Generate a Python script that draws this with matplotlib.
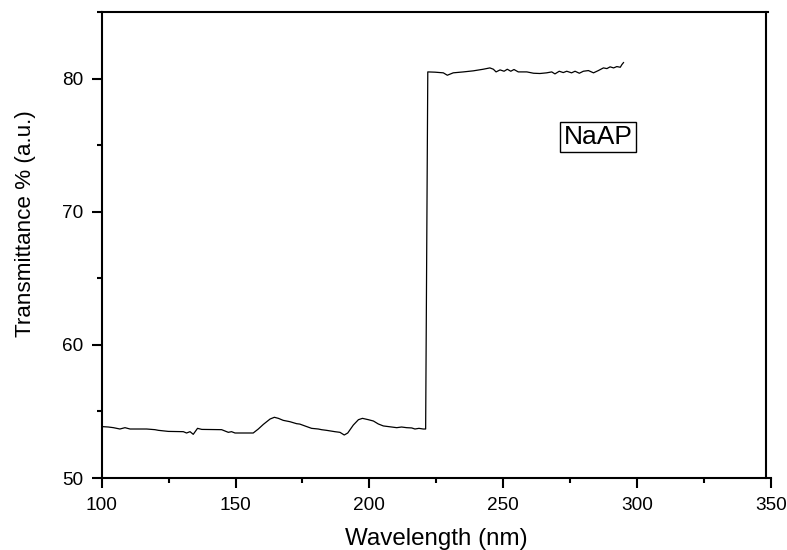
import matplotlib
matplotlib.use("Agg")
import matplotlib.pyplot as plt
from matplotlib.ticker import MultipleLocator

plt.rcParams['font.family'] = ['Liberation Sans', 'DejaVu Sans']

wavelength_low = [100.2, 102.5, 104.4, 106.8, 108.7, 110.6, 116.8, 119.9, 121.2, 124.9,
                  130.5, 131.7, 133.0, 134.2, 135.8, 137.4, 144.8, 147.3, 148.5, 149.8,
                  156.6, 158.5, 160.4, 162.9, 164.5, 166.0, 167.8, 170.3, 172.8, 174.0,
                  175.9, 178.4, 180.9, 182.1, 184.0, 187.1, 189.0, 190.6, 191.9, 194.0,
                  195.9, 197.4, 199.6, 201.5, 203.3, 205.2, 208.3, 210.2, 212.0, 213.9,
                  215.8, 217.0, 218.5, 220.1, 221.0]
transmit_low = [53.86, 53.83, 53.78, 53.68, 53.78, 53.68, 53.68, 53.63, 53.58, 53.50,
                53.48, 53.38, 53.48, 53.28, 53.73, 53.65, 53.63, 53.43, 53.48, 53.38,
                53.38, 53.68, 54.03, 54.43, 54.56, 54.48, 54.33, 54.23, 54.08, 54.05,
                53.91, 53.73, 53.68, 53.63, 53.58, 53.48, 53.43, 53.23, 53.38, 53.98,
                54.38, 54.48, 54.38, 54.28, 54.06, 53.91, 53.83, 53.78, 53.83, 53.78,
                53.76, 53.68, 53.73, 53.68, 53.68]
wavelength_high = [221.8, 224.5, 227.6, 229.1, 231.3, 235.1, 238.8, 242.5, 245.0, 246.3,
                   247.3, 248.8, 250.3, 251.5, 252.8, 254.0, 255.6, 258.8, 261.3, 263.7,
                   266.2, 268.1, 269.3, 270.9, 272.4, 273.7, 275.5, 276.8, 278.4, 279.9,
                   281.8, 283.7, 285.5, 287.4, 288.7, 289.9, 291.2, 292.4, 293.7, 294.3,
                   294.9]
transmit_high = [80.50, 80.48, 80.43, 80.25, 80.43, 80.50, 80.58, 80.70, 80.80, 80.70,
                 80.50, 80.65, 80.55, 80.70, 80.55, 80.68, 80.50, 80.50, 80.40, 80.38,
                 80.43, 80.50, 80.35, 80.55, 80.45, 80.55, 80.43, 80.55, 80.40, 80.55,
                 80.60, 80.43, 80.60, 80.80, 80.75, 80.88, 80.80, 80.90, 80.85, 81.05,
                 81.20]

x = wavelength_low + wavelength_high
y = transmit_low + transmit_high

fig = plt.figure(figsize=(7.87, 5.5), dpi=100)
ax = fig.add_axes([0.1292, 0.1309, 0.9797 - 0.1292, 0.9782 - 0.1309])
ax.plot(x, y, color='black', linewidth=0.9)

ax.set_xlim(100, 350)
ax.set_ylim(50, 85)
ax.xaxis.set_major_locator(MultipleLocator(50))
ax.xaxis.set_minor_locator(MultipleLocator(25))
ax.set_yticks([50, 60, 70, 80])
ax.yaxis.set_minor_locator(MultipleLocator(5))

for s in ax.spines.values():
    s.set_linewidth(1.5)
ax.spines['right'].set_position(('data', 348))
ax.spines['top'].set_bounds(100, 349)

ax.tick_params(which='major', direction='out', length=7.2, width=1.5, labelsize=13.7,
               pad=6.2, top=False, right=False)
ax.tick_params(which='minor', direction='out', length=3.8, width=1.5,
               top=False, right=False)

ax.set_xlabel('Wavelength (nm)', fontsize=17.4)
ax.set_ylabel('Transmittance % (a.u.)', fontsize=16.2)
ax.xaxis.set_label_coords(0.5, -0.107)
ax.yaxis.set_label_coords(-0.0974, 0.545)

ax.text(285.4, 75.11, 'NaAP', fontsize=19, ha='center', va='baseline',
        bbox=dict(boxstyle='square,pad=0.12', facecolor='white', edgecolor='black', linewidth=1))

fig.savefig('out.png', dpi=100)
